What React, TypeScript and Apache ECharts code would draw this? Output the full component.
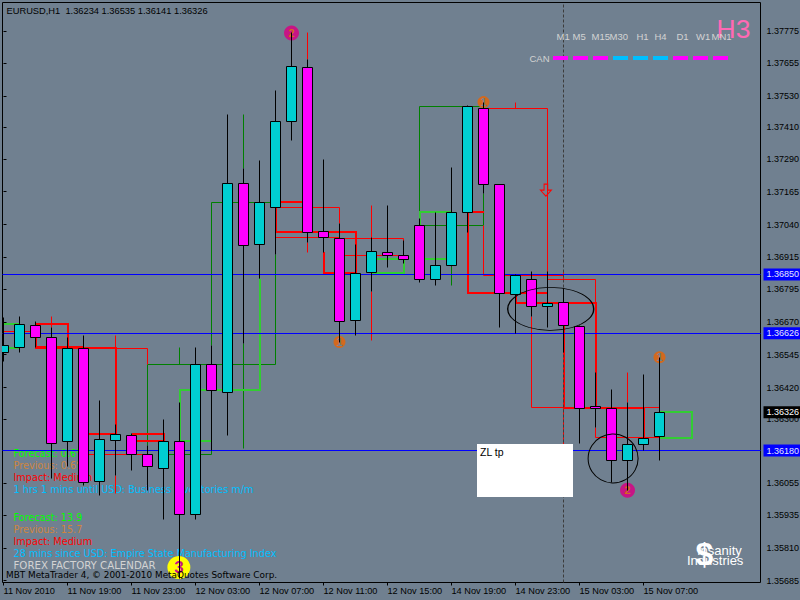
import React, { useEffect, useRef } from "react";
import * as echarts from "echarts";

const bgColor = "#708090";
const bullColor = "#00ced1";
const bearColor = "#ff00ff";

const openPrices = [
  1.36552, 1.36574, 1.36656, 1.3661, 1.36213, 1.36568, 1.36062, 1.3622, 1.36237, 1.36165, 1.36111, 1.36213,
  1.35936, 1.36507, 1.36401, 1.37196, 1.36964, 1.37105, 1.37433, 1.37638, 1.37014, 1.36987, 1.36675, 1.36858,
  1.36934, 1.36922, 1.37037, 1.36831, 1.36883, 1.37086, 1.37482, 1.37193, 1.36774, 1.36831, 1.3673, 1.36743,
  1.36654, 1.36348, 1.3634, 1.36142, 1.36203, 1.36234,
];
const highPrices = [
  1.36687, 1.36689, 1.36673, 1.36649, 1.36611, 1.36619, 1.36371, 1.3628, 1.36246, 1.362, 1.36299, 1.36364,
  1.36574, 1.36581, 1.3746, 1.37255, 1.37285, 1.37552, 1.37769, 1.3767, 1.37289, 1.37045, 1.36965, 1.36992,
  1.37114, 1.36981, 1.37062, 1.37087, 1.37259, 1.37493, 1.37506, 1.37194, 1.36851, 1.36863, 1.36863, 1.36798,
  1.36657, 1.36477, 1.36413, 1.36364, 1.3647, 1.36535,
];
const lowPrices = [
  1.3652, 1.36552, 1.36573, 1.36072, 1.3612, 1.36049, 1.3601, 1.36086, 1.36106, 1.36029, 1.35916, 1.35694,
  1.35918, 1.36181, 1.36239, 1.36587, 1.36833, 1.36927, 1.37359, 1.3697, 1.36932, 1.36593, 1.36616, 1.36786,
  1.36875, 1.36893, 1.36821, 1.36807, 1.3688, 1.37008, 1.37157, 1.36647, 1.36625, 1.36691, 1.3665, 1.36552,
  1.36207, 1.36266, 1.36059, 1.36029, 1.36182, 1.36141,
];
const closePrices = [
  1.3658, 1.36661, 1.36609, 1.36207, 1.36568, 1.36058, 1.36222, 1.36241, 1.36165, 1.36119, 1.36213, 1.35936,
  1.36507, 1.36408, 1.37196, 1.36959, 1.37124, 1.37433, 1.37642, 1.3701, 1.36991, 1.3667, 1.36854, 1.36938,
  1.36921, 1.36907, 1.36831, 1.36884, 1.37086, 1.3749, 1.37193, 1.36778, 1.36846, 1.3673, 1.3674, 1.36656,
  1.36342, 1.3634, 1.36142, 1.36203, 1.36226, 1.36326,
];

const xTickBars = [0, 4, 8, 12, 16, 20, 24, 28, 32, 36, 40];
const xTickLabels = [
  "11 Nov 2010", "11 Nov 19:00", "11 Nov 23:00", "12 Nov 03:00", "12 Nov 07:00", "12 Nov 11:00",
  "12 Nov 15:00", "14 Nov 19:00", "14 Nov 23:00", "15 Nov 03:00", "15 Nov 07:00",
];
const yTickValues = [
  1.37775, 1.37655, 1.3753, 1.3741, 1.3729, 1.37165, 1.3704, 1.36915, 1.36795, 1.3667, 1.36545, 1.3642, 1.363,
  1.36055, 1.35935, 1.3581, 1.35685,
];

type Pt = [number, number];

const thickRed: Pt[][] = [
  [[2, 1.36661], [4, 1.36661], [4, 1.36571]],
  [[2, 1.36661], [2, 1.36571], [7, 1.36571], [7, 1.36242], [5, 1.36242]],
  [[8, 1.36242], [10, 1.36242], [10, 1.36215], [8, 1.36215]],
  [[17, 1.37125], [19, 1.37125]],
  [[17, 1.37105], [17, 1.37011], [22, 1.37011], [22, 1.36856], [20, 1.36856], [20, 1.36935]],
  [[29, 1.37087], [30, 1.37087]],
  [[29, 1.37087], [29, 1.3678], [34, 1.3678]],
  [[32, 1.3678], [32, 1.36742], [37, 1.36742], [37, 1.36341]],
  [[35, 1.36656], [35, 1.36341], [40, 1.36341], [40, 1.36229]],
];
const thickGreen: Pt[][] = [
  [[0, 1.36661], [1, 1.36661]],
  [[0, 1.36571], [1, 1.36571]],
  [[23, 1.36909], [25, 1.36909], [25, 1.36856], [23, 1.36856]],
  [[26, 1.37037], [26, 1.37087], [28, 1.37087]],
  [[26, 1.36909], [28, 1.36909]],
  [[16, 1.36833], [16, 1.3641], [11, 1.3641], [11, 1.36216], [13, 1.36216]],
  [[41, 1.36327], [43, 1.36327], [43, 1.36228], [41, 1.36228]],
];
const thinRed: Pt[][] = [
  [[0, 1.36633], [2, 1.36633]],
  [[2, 1.36577], [5, 1.36577]],
  [[7, 1.36568], [9, 1.36568], [9, 1.36507]],
  [[5, 1.36166], [9, 1.36166]],
  [[3, 1.36649], [3, 1.36689]],
  [[7, 1.36568], [7, 1.36619]],
  [[7, 1.36086], [7, 1.36017]],
  [[17, 1.37105], [21, 1.37105], [21, 1.37045]],
  [[17, 1.36991], [21, 1.36991]],
  [[21, 1.36922], [25, 1.36922]],
  [[21, 1.36987], [25, 1.36987], [25, 1.36856]],
  [[19, 1.3767], [19, 1.3777]],
  [[19, 1.3697], [19, 1.36932]],
  [[23, 1.36992], [23, 1.37114]],
  [[23, 1.36786], [23, 1.36597]],
  [[32, 1.37482], [32, 1.37506]],
  [[30, 1.37482], [34, 1.37482], [34, 1.3678]],
  [[30, 1.37037], [30, 1.36846], [35, 1.36846]],
  [[35, 1.36863], [35, 1.36831]],
  [[34, 1.36831], [37, 1.36831], [37, 1.36742]],
  [[33, 1.36691], [33, 1.36344], [41, 1.36344]],
  [[35, 1.36344], [35, 1.36204]],
  [[37, 1.36266], [37, 1.36228], [41, 1.36228]],
  [[39, 1.36364], [39, 1.36477]],
];
const thinGreen: Pt[][] = [
  [[17, 1.37125], [13, 1.37125], [13, 1.36581]],
  [[9, 1.36200], [9, 1.36507], [17, 1.36507], [17, 1.36927]],
  [[10, 1.36166], [13, 1.36166], [13, 1.3641]],
  [[11, 1.36507], [11, 1.36574]],
  [[15, 1.3746], [15, 1.37255]],
  [[15, 1.36587], [15, 1.36186]],
  [[16, 1.36964], [16, 1.36833]],
  [[30, 1.3749], [26, 1.3749], [26, 1.37037], [30, 1.37037], [30, 1.37157]],
  [[28, 1.3688], [28, 1.36809]],
];

const horizontalLevels = [1.3685, 1.36626, 1.3618];
const currentPrice = 1.36326;
const sessionLineBar = 35;

const arrowPoint: Pt = [33.9, 1.37171];
const ellipsePoint: Pt = [34.2, 1.36719];
const circlePoint: Pt = [38.1, 1.3615];

const magentaMarks: Pt[] = [[18, 1.37769], [39, 1.36029]];
const orangeMarks: Pt[] = [[21, 1.36593], [30, 1.37506], [41, 1.36535]];
const yellowMarks: Pt[] = [[10.96, 1.35735]];

const headerText = "EURUSD,H1  1.36234 1.36535 1.36141 1.36326";
const upperNewsLines = [
  "Forecast: 0.6%",
  "Previous: 0.6%",
  "Impact: Medium",
  "1 hrs 1 mins until USD: Business Inventories m/m",
];
const lowerNewsLines = [
  "Forecast: 13.9",
  "Previous: 15.7",
  "Impact: Medium",
  "28 mins since USD: Empire State Manufacturing Index",
];
const newsColors = ["#00ff00", "#cd853f", "#ff0000", "#00bfff"];
const calendarText = "FOREX FACTORY CALENDAR";
const copyrightText = "MBT MetaTrader 4, © 2001-2010 MetaQuotes Software Corp.";
const timeframes = ["M1", "M5", "M15", "M30", "H1", "H4", "D1", "W1", "MN1"];
const timeframeLeft = [556.5, 572.5, 591.5, 609.5, 636.5, 654.5, 676.5, 696, 711.5];
const timeframeColors = ["#ff00ff", "#ff00ff", "#ff00ff", "#00bfff", "#00bfff", "#00bfff", "#ff00ff", "#ff00ff", "#ff00ff"];

const MONO = '"Liberation Sans", Arial, sans-serif';
const WIDE = '"DejaVu Sans", Verdana, sans-serif';

// the x axis runs in sixteenths of a bar, so that its extent is made of whole numbers
const UNITS = 16;
const ux = (p: Pt): Pt => [p[0] * UNITS, p[1]];
const snap = (v: number) => Math.round(v - 0.5) + 0.5;

function lineSeries(segs: Pt[][], color: string, width: number, z: number) {
  const fit = width % 2 === 0 ? (v: number) => Math.round(v) : snap;
  return {
    type: "custom",
    coordinateSystem: "cartesian2d",
    z,
    silent: true,
    clip: true,
    data: segs.map((s) => ux(s[0])),
    renderItem: (p: any, api: any) => ({
      type: "polyline",
      shape: {
        points: segs[p.dataIndex].map((pt) => {
          const c = api.coord(ux(pt));
          return [fit(c[0]), fit(c[1])];
        }),
      },
      style: { stroke: color, lineWidth: width, fill: "none" },
    }),
  };
}

function markSeries(pts: Pt[], size: number, color: string, digit: string, digitColor: string, z: number) {
  return {
    type: "scatter",
    z,
    silent: true,
    symbol: "circle",
    symbolSize: size,
    data: pts.map(ux),
    itemStyle: { color, opacity: 1 },
    label: {
      show: true,
      position: "inside",
      formatter: digit,
      color: digitColor,
      fontFamily: MONO,
      fontSize: size > 20 ? 17 : 11,
      fontWeight: "bold",
    },
  };
}

function txt(text: string, x: number, y: number, fill: string, font: string, z = 1, extra: any = {}) {
  return { type: "text", z, silent: true, x, y, style: { text, fill, font, textVerticalAlign: "middle", ...extra } };
}

function buildOption() {
  const candleData = openPrices.map((o, i) => [i * UNITS, o, highPrices[i], lowPrices[i], closePrices[i]]);
  const tickUnits = xTickBars.map((b) => b * UNITS);

  const newsEls = [
    ...upperNewsLines.map((t, i) => txt(t, 13.5, 453 + i * 12, newsColors[i], `9.7px ${WIDE}`)),
    ...lowerNewsLines.map((t, i) => txt(t, 13.5, 517 + i * 12, newsColors[i], `9.7px ${WIDE}`)),
  ];
  const tfEls = timeframes.map((t, i) => txt(t, timeframeLeft[i], 36, "#d3d3d3", `9.5px ${MONO}`, 12));
  const dashEls = timeframeColors.map((c, i) => ({
    type: "rect",
    z: 12,
    silent: true,
    shape: { x: 553 + 20 * i, y: 56, width: 15, height: 4 },
    style: { fill: c },
  }));

  return {
    animation: false,
    backgroundColor: bgColor,
    grid: {
      left: 2.5,
      top: 2.5,
      width: 758,
      height: 580,
      outerBoundsMode: "none",
      show: true,
      borderColor: "#000",
      borderWidth: 1,
      backgroundColor: "transparent",
    },
    xAxis: {
      type: "value",
      min: -1,
      max: 757,
      splitLine: { show: false },
      axisLine: { show: false },
      axisTick: { show: true, length: 3, customValues: tickUnits, lineStyle: { color: "#000" } },
      axisLabel: {
        customValues: tickUnits,
        formatter: (v: number) => xTickLabels[tickUnits.indexOf(v)] ?? "",
        align: "left",
        margin: 4,
        color: "#000",
        fontFamily: MONO,
        fontSize: 9.2,
      },
    },
    yAxis: {
      type: "value",
      position: "right",
      min: 1.35678,
      max: 1.37885,
      splitLine: { show: false },
      axisLine: { show: false },
      axisTick: { show: true, length: 3, customValues: yTickValues, lineStyle: { color: "#000" } },
      axisLabel: {
        customValues: yTickValues,
        formatter: (v: number) => v.toFixed(5),
        margin: 6,
        color: "#000",
        fontFamily: MONO,
        fontSize: 9,
      },
    },
    graphic: {
      elements: [
        txt(headerText, 6.5, 11, "#000", `9.3px ${MONO}`, 12),
        ...newsEls,
        txt(calendarText, 13.5, 565, "#d3d3d3", `10.2px ${WIDE}`),
        txt(copyrightText, 6, 575, "#000", `8.9px ${WIDE}`, 6),
        ...tfEls,
        txt("CAN", 529.5, 58, "#d3d3d3", `9.5px ${MONO}`, 12),
        ...dashEls,
        txt("H3", 716.5, 29, "#ff69b4", `26.5px ${MONO}`, 11),
        {
          type: "rect",
          z: 20,
          silent: true,
          shape: { x: 477, y: 444, width: 96, height: 53 },
          style: { fill: "#fff" },
        },
        txt("ZL tp", 480, 451.5, "#000", `10.5px ${MONO}`, 21),
        txt("$", 695.5, 554, "#fff", `bold 32px ${MONO}`, 13),
        txt("Insanity", 697, 550.5, "#fff", `13px ${MONO}`, 14),
        txt("Industries", 687, 560.5, "#fff", `13px ${MONO}`, 14),
      ],
    },
    series: [
      {
        type: "line",
        z: 2,
        silent: true,
        data: [],
        markLine: {
          silent: true,
          symbol: "none",
          animation: false,
          precision: 5,
          data: [
            ...horizontalLevels.map((v) => ({
              yAxis: v,
              lineStyle: { color: "#0000ff", width: 1, type: "solid" },
              label: {
                show: true,
                position: "end",
                distance: 3,
                formatter: () => v.toFixed(5),
                color: "#e6e6ff",
                backgroundColor: "#0000ff",
                fontFamily: MONO,
                fontSize: 9,
                padding: [1.5, 3, 1.5, 3],
              },
            })),
            {
              yAxis: currentPrice,
              lineStyle: { color: "transparent", width: 0, type: "solid" },
              label: {
                show: true,
                position: "end",
                distance: 3,
                formatter: () => currentPrice.toFixed(5),
                color: "#fff",
                backgroundColor: "#000",
                fontFamily: MONO,
                fontSize: 9,
                padding: [1.5, 3, 1.5, 3],
              },
            },
            {
              xAxis: sessionLineBar * UNITS,
              lineStyle: { color: "#3c3c3c", width: 1, type: [3, 2] },
              label: { show: false },
            },
          ],
        },
      },
      lineSeries(thinGreen, "#008000", 1, 3),
      lineSeries(thinRed, "#ff0000", 1, 3),
      lineSeries(thickGreen, "#32cd32", 2, 4),
      lineSeries(thickRed, "#ff0000", 2, 4),
      markSeries(magentaMarks, 15, "#c71585", "2", "#d2691e", 5),
      markSeries(orangeMarks, 12, "#d2691e", "1", bgColor, 5),
      markSeries(yellowMarks, 23, "#ffff00", "3", "#c71585", 5),
      {
        type: "custom",
        coordinateSystem: "cartesian2d",
        z: 7,
        silent: true,
        clip: true,
        encode: { x: 0, y: [1, 2, 3, 4] },
        data: candleData,
        renderItem: (_: any, api: any) => {
          const i = api.value(0);
          const o = api.value(1);
          const c = api.value(4);
          const x = snap(api.coord([i, o])[0]);
          const yO = snap(api.coord([i, o])[1]);
          const yC = snap(api.coord([i, c])[1]);
          const yH = snap(api.coord([i, api.value(2)])[1]);
          const yL = snap(api.coord([i, api.value(3)])[1]);
          return {
            type: "group",
            children: [
              { type: "line", shape: { x1: x, y1: yH, x2: x, y2: yL }, style: { stroke: "#000", lineWidth: 1 } },
              {
                type: "rect",
                shape: { x: x - 5, y: Math.min(yO, yC), width: 10, height: Math.abs(yO - yC) },
                style: { fill: c >= o ? bullColor : bearColor, stroke: "#000", lineWidth: 1 },
              },
            ],
          };
        },
      },
      {
        type: "scatter",
        z: 8,
        silent: true,
        symbol: "circle",
        symbolSize: [86, 43],
        data: [ux(ellipsePoint)],
        itemStyle: { color: "transparent", borderColor: "#000", borderWidth: 1, opacity: 1 },
      },
      {
        type: "scatter",
        z: 8,
        silent: true,
        symbol: "circle",
        symbolSize: [50, 49],
        data: [ux(circlePoint)],
        itemStyle: { color: "transparent", borderColor: "#000", borderWidth: 1, opacity: 1 },
      },
      {
        type: "scatter",
        z: 8,
        silent: true,
        symbol: "path://M4,0 L8,0 L8,6 L12,6 L6,12 L0,6 L4,6 Z",
        symbolSize: [11, 12],
        data: [ux(arrowPoint)],
        itemStyle: { color: "transparent", borderColor: "#ff0000", borderWidth: 1, opacity: 1 },
      },
    ],
  };
}

export default function App() {
  const ref = useRef<HTMLDivElement>(null);
  useEffect(() => {
    document.body.style.margin = "0";
    document.body.style.background = bgColor;
    const chart = echarts.init(ref.current as HTMLDivElement, null, { renderer: "svg" });
    chart.setOption(buildOption() as any);
    return () => chart.dispose();
  }, []);
  return <div ref={ref} style={{ position: "absolute", left: 0, top: 0, width: 800, height: 600 }} />;
}
